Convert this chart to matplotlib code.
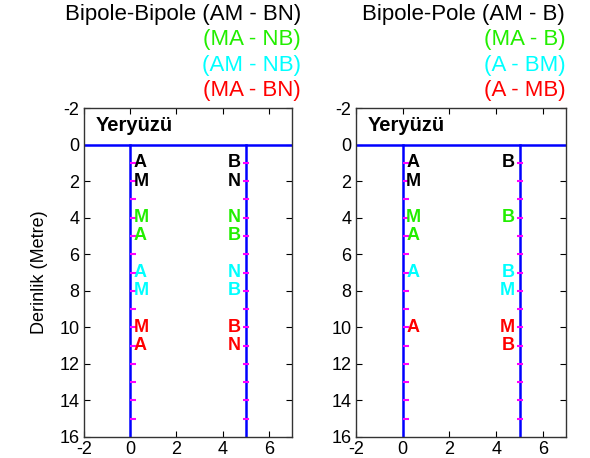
import numpy as np
import matplotlib.pyplot as plt

plt.rcParams['font.family'] = ['Liberation Sans', 'DejaVu Sans']
plt.rcParams['axes.unicode_minus'] = False

# electrode depths (m) and labels
c_blk, c_grn, c_cyn, c_red = 'black', '#22ee00', '#00ffff', '#ff0000'

bb_depth = [1, 2, 4, 5, 7, 8, 10, 11]
bb_left = ['A', 'M', 'M', 'A', 'A', 'M', 'M', 'A']
bb_right = ['B', 'N', 'N', 'B', 'N', 'B', 'B', 'N']
bb_col = [c_blk, c_blk, c_grn, c_grn, c_cyn, c_cyn, c_red, c_red]

bp_left_depth = [1, 2, 4, 5, 7, 10]
bp_left = ['A', 'M', 'M', 'A', 'A', 'A']
bp_left_col = [c_blk, c_blk, c_grn, c_grn, c_cyn, c_red]
bp_right_depth = [1, 4, 7, 8, 10, 11]
bp_right = ['B', 'B', 'B', 'M', 'M', 'B']
bp_right_col = [c_blk, c_grn, c_cyn, c_cyn, c_red, c_red]

electrode_depths = np.arange(1, 16)
borehole_x = [0, 5]

bb_titles = ['Bipole-Bipole (AM - BN)', '(MA - NB)', '(AM - NB)', '(MA - BN)']
bp_titles = ['Bipole-Pole (AM - B)', '(MA - B)', '(A - BM)', '(A - MB)']
title_cols = [c_blk, c_grn, c_cyn, c_red]

fig = plt.figure(figsize=(5.9, 4.58), dpi=100)
ax1 = fig.add_axes([0.142, 0.046, 0.353, 0.718])
ax2 = fig.add_axes([0.603, 0.046, 0.357, 0.718])


def draw_panel(ax, ldep, llab, lcol, rdep, rlab, rcol):
    ax.plot([-2, 7], [0, 0], color='#0000ff', lw=1.8)
    for bx in borehole_x:
        ax.plot([bx, bx], [0, 16], color='#0000ff', lw=1.8)
    ax.plot(np.full(len(electrode_depths), 0.13), electrode_depths, ls='none',
            marker='_', color='#ff00ff', ms=4, mew=1.5)
    ax.plot(np.full(len(electrode_depths), 5.0), electrode_depths, ls='none',
            marker='_', color='#ff00ff', ms=5, mew=1.5)
    for d, t, c in zip(ldep, llab, lcol):
        ax.text(0.15, d, t, color=c, fontsize=13, fontweight='bold',
                ha='left', va='center')
    for d, t, c in zip(rdep, rlab, rcol):
        ax.text(4.78, d, t, color=c, fontsize=13, fontweight='bold',
                ha='right', va='center')
    ax.text(-1.5, -1.05, 'Yeryüzü', fontsize=14.5, fontweight='bold',
            ha='left', va='center')
    ax.set_xlim(-2, 7)
    ax.set_ylim(16, -2)
    ax.set_xticks([-2, 0, 2, 4, 6])
    ax.set_yticks(np.arange(-2, 17, 2))
    ax.tick_params(direction='in', top=True, right=True, length=4,
                   labelsize=13, pad=3)
    for s in ax.spines.values():
        s.set_color('#333333')
        s.set_linewidth(1.0)


draw_panel(ax1, bb_depth, bb_left, bb_col, bb_depth, bb_right, bb_col)
draw_panel(ax2, bp_left_depth, bp_left, bp_left_col,
           bp_right_depth, bp_right, bp_right_col)

ax1.set_ylabel('Derinlik (Metre)', fontsize=13, labelpad=8,
               family=['Liberation Sans Narrow', 'Liberation Sans'])

ys = [0.969, 0.913, 0.858, 0.803]
for t, c, y in zip(bb_titles, title_cols, ys):
    fig.text(0.51, y, t, color=c, fontsize=16, ha='right', va='center')
for t, c, y in zip(bp_titles, title_cols, ys):
    fig.text(0.958, y, t, color=c, fontsize=16, ha='right', va='center')

fig.savefig('out.png', dpi=100)
